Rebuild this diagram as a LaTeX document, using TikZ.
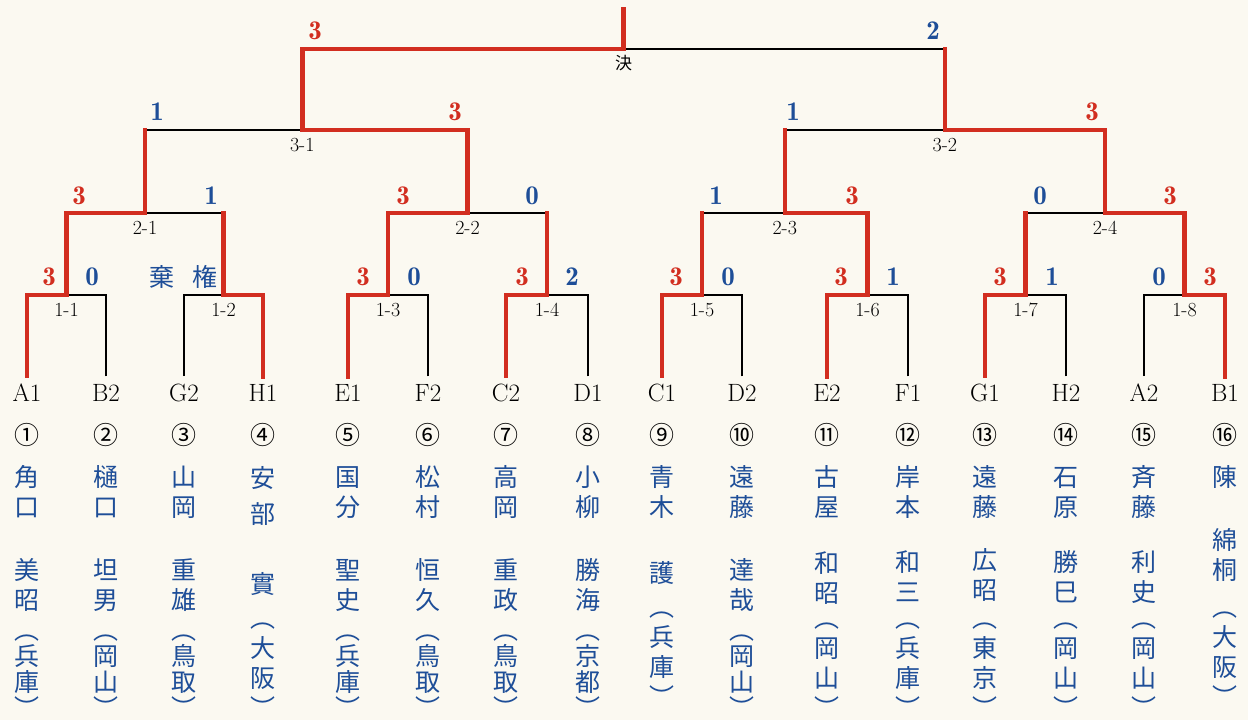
\documentclass[tikz,border=0pt]{standalone}
\usepackage{fontspec}
\newfontfamily\jfont{Noto Sans CJK JP}
\newfontfamily\demi{lmromandemi10-regular}[Extension=.otf]
\usetikzlibrary{positioning,calc}
\definecolor{tred}{RGB}{210,46,32}
\definecolor{tblue}{RGB}{30,78,152}
\definecolor{paper}{RGB}{251,249,241}

\begin{document}
\begin{tikzpicture}[x=1pt,y=-1pt,
  win/.style={draw=tred,line width=4.5pt,line cap=rect},
  lose/.style={draw=black,line width=1.8pt},
  leaf/.style={font=\fontsize{25}{25}\selectfont,inner sep=0pt,outer ysep=8pt},
  score/.style={font=\demi\fontsize{27}{27}\selectfont,inner sep=0pt},
  mlabel/.style={font=\fontsize{20}{20}\selectfont,inner sep=0pt},
  circ/.style={font=\jfont\fontsize{25}{25}\selectfont,inner sep=0pt},
  kanji/.style={font=\jfont\fontsize{25}{25}\selectfont,text=tblue,inner sep=0pt,anchor=base},
]
\fill [paper] (0,0) rectangle (1248,720);
\useasboundingbox (0,0) rectangle (1248,720);

% players
\foreach \p/\x/\c in {A1/27/①,B2/106/②,G2/184/③,H1/263/④,E1/348/⑤,F2/428/⑥,
    C2/506/⑦,D1/588/⑧,C1/662/⑨,D2/742/⑩,E2/827/⑪,F1/908/⑫,G1/985/⑬,
    H2/1066/⑭,A2/1144/⑮,B1/1225/⑯} {
  \node [leaf] (\p) at (\x,393) {\p};
  \node [circ] (c\p) at (\x,435) {\c};
}

% match points
\coordinate (m11) at ($(A1)!.5!(B2)+(0,-98)$);
\coordinate (m12) at ($(G2)!.5!(H1)+(0,-98)$);
\coordinate (m13) at ($(E1)!.5!(F2)+(0,-98)$);
\coordinate (m14) at ($(C2)!.5!(D1)+(0,-98)$);
\coordinate (m15) at ($(C1)!.5!(D2)+(0,-98)$);
\coordinate (m16) at ($(E2)!.5!(F1)+(0,-98)$);
\coordinate (m17) at ($(G1)!.5!(H2)+(0,-98)$);
\coordinate (m18) at ($(A2)!.5!(B1)+(0,-98)$);
\coordinate (m21) at ($(m11)!.5!(m12)+(0,-82)$);
\coordinate (m22) at ($(m13)!.5!(m14)+(0,-82)$);
\coordinate (m23) at ($(m15)!.5!(m16)+(0,-82)$);
\coordinate (m24) at ($(m17)!.5!(m18)+(0,-82)$);
\coordinate (m31) at ($(m21)!.5!(m22)+(-4,-83)$);
\coordinate (m32) at ($(m23)!.5!(m24)+(0,-83)$);
\coordinate (fin) at ($(m31)!.5!(m32)+(0,-81)$);
\coordinate (top) at ($(fin)+(0,-40)$);

% first round: match/winner/loser
\foreach \m/\w/\l in {m11/A1/B2,m12/H1/G2,m13/E1/F2,m14/C2/D1,
    m15/C1/D2,m16/E2/F1,m17/G1/H2,m18/B1/A2} {
  \draw [lose] (\l) |- (\m);
  \draw [win] (\w) |- (\m);
}
% later rounds
\foreach \m/\w/\l in {m21/m11/m12,m22/m13/m14,m23/m16/m15,m24/m18/m17,
    m31/m22/m21,m32/m24/m23,fin/m31/m32} {
  \draw [lose] (\l) |- (\m);
  \draw [win] (\w) |- (\m);
  \draw [win] (\l) -- (\l |- \m);
}
\draw [win] (fin) -- (top);

% match labels
\foreach \m/\t in {m11/1-1,m12/1-2,m13/1-3,m14/1-4,m15/1-5,m16/1-6,m17/1-7,m18/1-8,
    m21/2-1,m22/2-2,m23/2-3,m24/2-4,m31/3-1,m32/3-2}
  \node [mlabel,below=8pt of \m] (\m-l) {\t};
\node [mlabel,font=\jfont\fontsize{17}{17}\selectfont,below=6pt of fin] (fin-l) {決};

% scores
\foreach \x/\y/\s/\c [count=\n] in {
    49/277/3/tred,92/277/0/tblue,363/277/3/tred,414/277/0/tblue,
    522/277/3/tred,572/277/2/tblue,676/277/3/tred,728/277/0/tblue,
    841/277/3/tred,893/277/1/tblue,1000/277/3/tred,1052/277/1/tblue,
    1159/277/0/tblue,1210/277/3/tred,
    79/196/3/tred,211/196/1/tblue,403/196/3/tred,532/196/0/tblue,
    716/196/1/tblue,852/196/3/tred,1040/196/0/tblue,1170/196/3/tred,
    157/112/1/tblue,455/112/3/tred,793/112/1/tblue,1092/112/3/tred,
    315/31/3/tred,933/31/2/tblue}
  \node [score,text=\c] (s\n) at (\x,\y) {\s};
\node [kanji,anchor=center] (kiken) at (183.5,277) {棄\hspace{17.5pt}権};

% names, top to bottom
\foreach \p/\y/\d/\s in {
    A1/477/30/{角,口},A1/570/30/{美,昭},A1/630/26/{︵,兵,庫,︶},
    B2/477/30/{樋,口},B2/570/30/{坦,男},B2/630/26/{︵,岡,山,︶},
    G2/477/30/{山,岡},G2/570/30/{重,雄},G2/630/26/{︵,鳥,取,︶},
    H1/478/36/{安,部},H1/584/30/{實},H1/618/30/{︵,大,阪,︶},
    E1/477/30/{国,分},E1/570/30/{聖,史},E1/630/26/{︵,兵,庫,︶},
    F2/477/30/{松,村},F2/570/30/{恒,久},F2/630/26/{︵,鳥,取,︶},
    C2/477/30/{高,岡},C2/570/30/{重,政},C2/630/26/{︵,鳥,取,︶},
    D1/477/30/{小,柳},D1/570/30/{勝,海},D1/630/26/{︵,京,都,︶},
    C1/477/30/{青,木},C1/573/30/{護},C1/607/30/{︵,兵,庫,︶},
    D2/477/30/{遠,藤},D2/570/30/{達,哉},D2/630/26/{︵,岡,山,︶},
    E2/477/30/{古,屋},E2/563/30/{和,昭},E2/618/30/{︵,岡,山,︶},
    F1/477/30/{岸,本},F1/562/30/{和,三},F1/618/30/{︵,兵,庫,︶},
    G1/477/30/{遠,藤},G1/560/30/{広,昭},G1/618/30/{︵,東,京,︶},
    H2/477/30/{石,原},H2/562/30/{勝,巳},H2/618/30/{︵,岡,山,︶},
    A2/477/30/{斉,藤},A2/562/30/{利,史},A2/618/30/{︵,岡,山,︶},
    B1/477/30/{陳},B1/540/30/{綿,桐},B1/607/30/{︵,大,阪,︶}}
  \foreach \k [count=\j from 0] in \s
    \node [kanji] (k\p-\y-\j) at (\p |- 0,{\y+\d*\j+9.5}) {\k};

\end{tikzpicture}
\end{document}
